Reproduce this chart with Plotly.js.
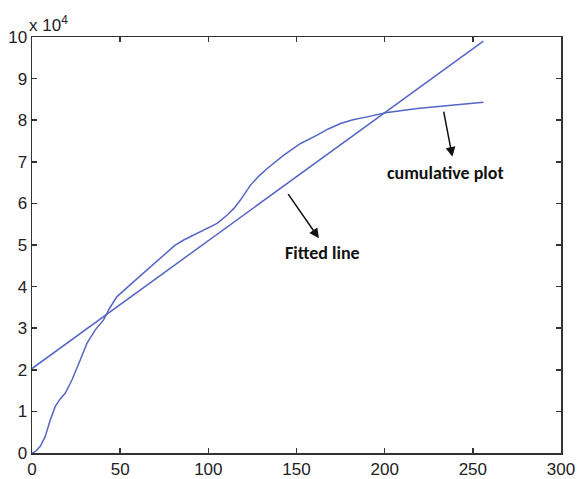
<!DOCTYPE html>
<html>
<head>
<meta charset="utf-8">
<script src="https://cdn.plot.ly/plotly-3.0.1.min.js"></script>
<style>html,body{margin:0;padding:0;background:#fff;}#chart{width:577px;height:479px;}</style>
</head>
<body>
<div id="chart"></div>
<script>
// Cumulative plot (x = grey level, y = cumulative count)
const cumX = [0, 0.9, 2.5, 4.7, 7.5, 10.4, 13.2, 16, 18.9, 22.7, 27.4, 31.2, 35.9, 40.6, 44, 48.2, 57.7, 67.1, 76.6, 81, 86.0, 95.5, 105, 110.7, 114.5, 118.2, 123.9, 128.5, 133.4, 142.8, 152.3, 161.7, 168, 175, 182, 190.1, 200.5, 218.5, 237.4, 256];
const cumY = [0, 100, 600, 1600, 4000, 8000, 11200, 13000, 14400, 17600, 22400, 26400, 29600, 32000, 34800, 37600, 41200, 44800, 48400, 49900, 51200, 53200, 55200, 57200, 58800, 60800, 64400, 66500, 68400, 71600, 74400, 76400, 77900, 79200, 80100, 80800, 81800, 82800, 83600, 84300];
// Fitted line endpoints
const fitX = [0, 256];
const fitY = [20300, 99000];
// Tick labels
const xTicks = [0, 50, 100, 150, 200, 250, 300];
const yTickVals = [0, 10000, 20000, 30000, 40000, 50000, 60000, 70000, 80000, 90000, 100000];
const yTickText = ['0', '1', '2', '3', '4', '5', '6', '7', '8', '9', '10'];

const lineColor = '#5566c4';
const traces = [
  {x: cumX, y: cumY, mode: 'lines', line: {color: lineColor, width: 1.5}, name: 'cumulative plot', hoverinfo: 'skip'},
  {x: fitX, y: fitY, mode: 'lines', line: {color: lineColor, width: 1.5}, name: 'Fitted line', hoverinfo: 'skip'}
];

const tickFont = {family: 'Liberation Sans, Arial, sans-serif', size: 17, color: '#222'};
const axisCommon = {
  showline: true, linecolor: '#333', linewidth: 1.5, mirror: 'ticks',
  ticks: 'inside', ticklen: 5, tickwidth: 1.5, tickcolor: '#333',
  showgrid: false, zeroline: false,
  tickfont: tickFont
};

const layout = {
  width: 577, height: 479,
  margin: {l: 32, r: 16, t: 37, b: 26, pad: 0},
  paper_bgcolor: '#fff', plot_bgcolor: '#fff',
  showlegend: false,
  xaxis: Object.assign({}, axisCommon, {range: [0, 300], tickvals: xTicks, ticktext: xTicks.map(String)}),
  yaxis: Object.assign({}, axisCommon, {range: [0, 100000], tickvals: yTickVals, ticktext: yTickText}),
  annotations: [
    {xref: 'paper', yref: 'paper', x: -0.01, y: 1.0, xanchor: 'left', yanchor: 'bottom', showarrow: false,
     text: 'x 10<sup>4</sup>', font: tickFont},
    // cumulative plot arrow
    {x: 238.4, y: 71200, ax: 233.3, ay: 82400, axref: 'x', ayref: 'y', xref: 'x', yref: 'y', text: '',
     showarrow: true, arrowhead: 2, arrowsize: 1.3, arrowwidth: 1.5, arrowcolor: '#111'},
    {x: 234.6, y: 67400, xref: 'x', yref: 'y', showarrow: false, text: '<b>cumulative plot</b>',
     font: {family: 'Carlito, Open Sans, sans-serif', size: 18, color: '#111'}},
    // fitted line arrow
    {x: 162.7, y: 51600, ax: 144.7, ay: 62600, axref: 'x', ayref: 'y', xref: 'x', yref: 'y', text: '',
     showarrow: true, arrowhead: 2, arrowsize: 1.3, arrowwidth: 1.5, arrowcolor: '#111'},
    {x: 164.6, y: 48000, xref: 'x', yref: 'y', showarrow: false, text: '<b>Fitted line</b>',
     font: {family: 'Carlito, Open Sans, sans-serif', size: 18, color: '#111'}}
  ]
};

Plotly.newPlot('chart', traces, layout, {staticPlot: true, displayModeBar: false});
</script>
</body>
</html>
